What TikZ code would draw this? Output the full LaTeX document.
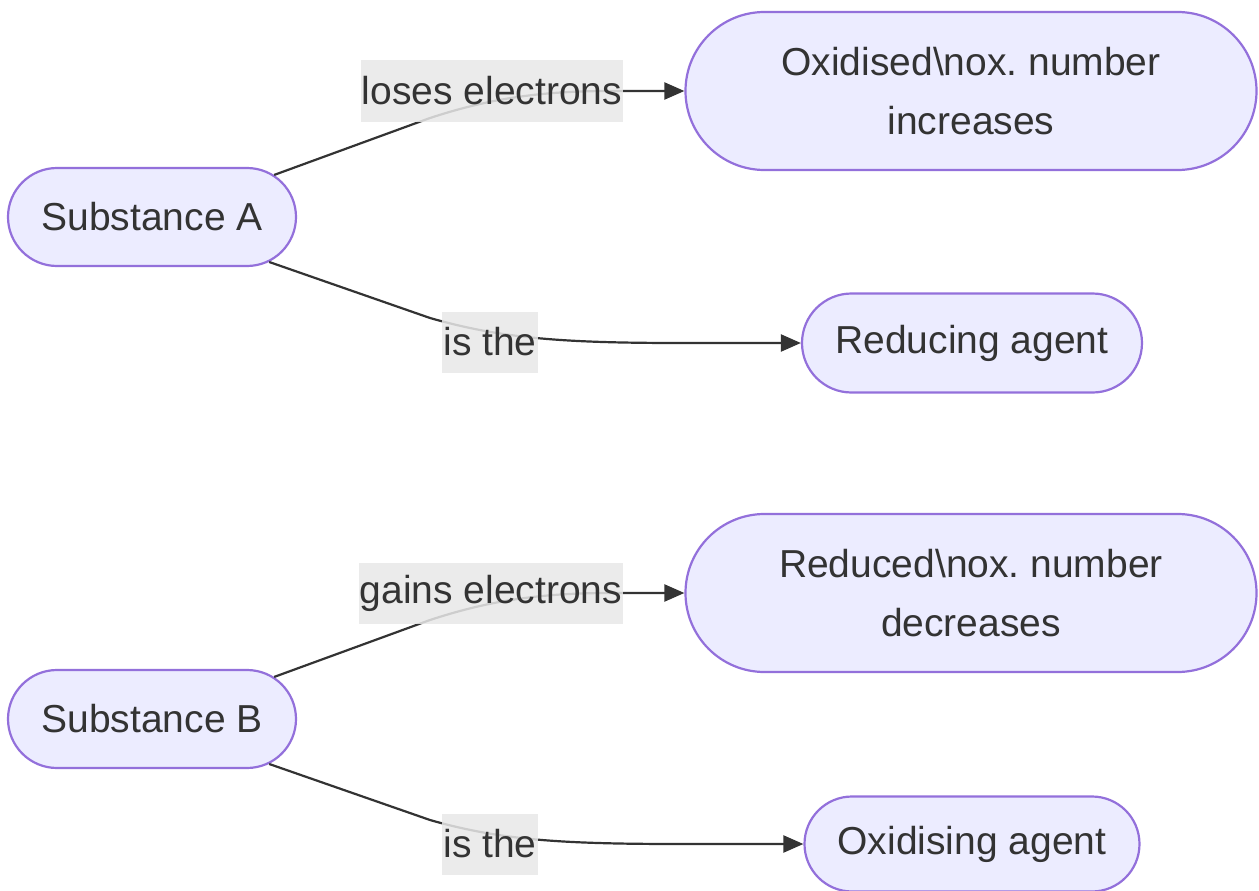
\documentclass[tikz,border=0pt]{standalone}
\usepackage{fontspec}
\setmainfont{Liberation Sans}
\usetikzlibrary{shapes.misc,arrows.meta}
\definecolor{nodefill}{HTML}{ECECFF}
\definecolor{nodeline}{HTML}{9370DB}
\definecolor{txt}{HTML}{333333}
\definecolor{lblfill}{HTML}{E8E8E8}
\frenchspacing
\tikzset{
  stad/.style={rounded rectangle, draw=nodeline, fill=nodefill, line width=2.2pt,
    text=txt, font=\fontsize{39}{59}\selectfont, align=center, inner sep=0pt},
  lbl/.style={fill=lblfill, fill opacity=0.85, text opacity=1, text=txt,
    font=\fontsize{39}{59}\selectfont, inner sep=1pt, minimum height=61pt},
  conn/.style={draw=txt, line width=2.2pt, -{Triangle[length=20pt,width=17pt]}},
}
\begin{document}
\begin{tikzpicture}[x=1pt,y=-1pt]
\useasboundingbox (0,0) rectangle (1259,891);
% nodes
\node[stad, minimum width=288pt, minimum height=98pt] (A) at (152,217) {Substance A};
\node[stad, minimum width=571pt, minimum height=158pt] (OX) at (971,91) {Oxidised\textbackslash nox. number\\increases};
\node[stad, minimum width=340pt, minimum height=99pt] (RA) at (972,343) {Reducing agent};
\node[stad, minimum width=288pt, minimum height=98pt] (B) at (152,719) {Substance B};
\node[stad, minimum width=571pt, minimum height=158pt] (RD) at (971,593) {Reduced\textbackslash nox. number\\decreases};
\node[stad, minimum width=335pt, minimum height=95pt] (OA) at (972,844) {Oxidising agent};
% connectors
\draw[conn] (A.19) -- (430,118) .. controls (485,100) and (535,91) .. (610,91) -- (OX.west);
\draw[conn] (A.-21) -- (430,318) .. controls (500,338) and (560,343) .. (680,343) -- (RA.west);
\draw[conn] (B.19) -- (430,620) .. controls (485,602) and (535,593) .. (610,593) -- (RD.west);
\draw[conn] (B.-21) -- (430,820) .. controls (500,840) and (560,844) .. (680,844) -- (OA.west);
% labels
\node[lbl] (L1) at (492,91) {loses electrons};
\node[lbl] (L2) at (490,342) {is the};
\node[lbl] (L3) at (491,593) {gains electrons};
\node[lbl] (L4) at (490,844) {is the};
\end{tikzpicture}
\end{document}
